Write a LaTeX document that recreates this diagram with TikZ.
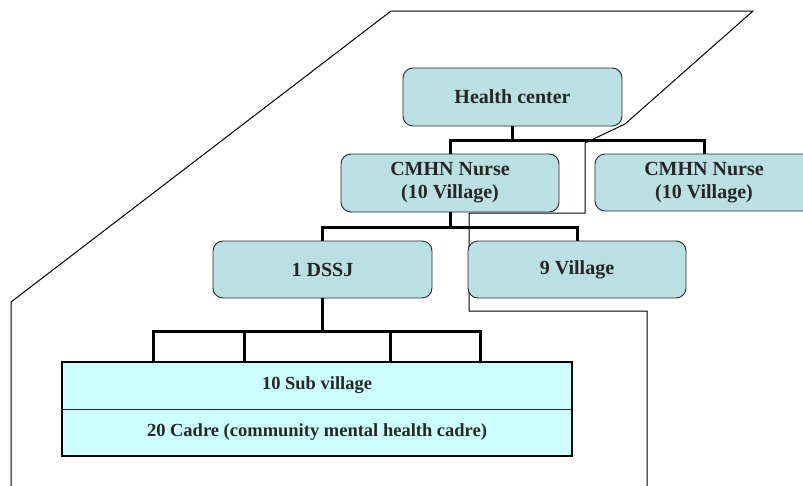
\documentclass[tikz,border=0pt]{standalone}
\usepackage{fontspec}
\setmainfont{Liberation Serif}
\definecolor{boxfill}{RGB}{187,224,227}
\definecolor{subfill}{RGB}{204,255,255}
\definecolor{txt}{RGB}{38,38,38}
\definecolor{edge}{RGB}{40,40,40}
\begin{document}
\begin{tikzpicture}[x=1pt,y=-1pt,
  rbox/.style={draw=edge,line width=0.9pt,fill=boxfill,rounded corners=10pt,
    inner sep=0pt,outer sep=0pt,align=center,text=txt,
    font=\bfseries\fontsize{20}{23}\selectfont},
  subbox/.style={fill=subfill,inner sep=0pt,outer sep=0pt,text=txt,
    minimum width=510pt,minimum height=47pt,
    font=\bfseries\fontsize{18.5}{22}\selectfont},
  conn/.style={line width=3pt,line join=miter},
  outline/.style={line width=1pt,draw=black,line join=miter}]
\useasboundingbox (0,0) rectangle (803,485);
\begin{scope}
\clip (0,0) rectangle (803,485);
% outline region
\draw[outline] (11,495) -- (11,302) -- (391,11) -- (753,11) -- (625,124) -- (585,143)
  -- (585,213) -- (469,213) -- (469,311) -- (647,311) -- (647,495);
% coordinates for connectors
\coordinate (b1) at (512.5,140);
\coordinate (b2) at (450,227);
\coordinate (b3) at (322.5,331);
\coordinate (t1) at (153,362);
\coordinate (t2) at (244,362);
\coordinate (t3) at (390,362);
\coordinate (t4) at (480,362);
% nodes
\node[rbox,minimum width=219pt,minimum height=58pt] (hc) at (512.5,97) {Health center};
\node[rbox,minimum width=218pt,minimum height=58pt] (n1) at (450,183) {CMHN Nurse\\(10 Village)};
\node[rbox,minimum width=218pt,minimum height=57pt] (n2) at (704,182.5) {CMHN Nurse\\(10 Village)};
\node[rbox,minimum width=219pt,minimum height=57pt] (dssj) at (322.5,269.5) {1 DSSJ};
\node[rbox,minimum width=218pt,minimum height=57pt] (vil) at (577,269.5) {9 Village};
\node[subbox] (sub1) at (317,385.5) {10 Sub village};
\node[subbox] (sub2) at (317,432.5) {20 Cadre (community mental health cadre)};
\draw[line width=2pt,draw=black] (sub1.north west) rectangle (sub2.south east);
\draw[line width=0.9pt,draw=edge] (sub1.south west) -- (sub1.south east);
% connectors
\draw[conn] (hc.south) -- (b1);
\draw[conn] (n1.north) |- (b1) -| (n2.north);
\draw[conn] (n1.south) -- (b2);
\draw[conn] (dssj.north) |- (b2) -| (vil.north);
\draw[conn] (dssj.south) -- (b3);
\draw[conn] (t1) |- (b3) -| (t4);
\draw[conn] (t2) -- (t2 |- b3);
\draw[conn] (t3) -- (t3 |- b3);
\end{scope}
\end{tikzpicture}
\end{document}
